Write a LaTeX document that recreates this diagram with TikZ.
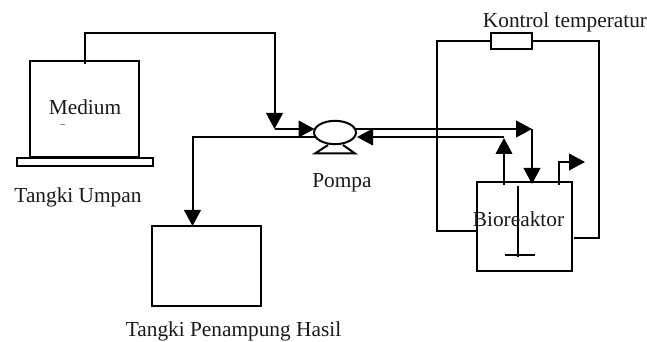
\documentclass[tikz,border=0pt]{standalone}
\usepackage{fontspec}
\setmainfont{Liberation Serif}
\usetikzlibrary{arrows.meta,shapes.geometric}
\tikzset{
  pipe/.style={draw=black,line width=1.5pt,line join=miter},
  flow/.style={pipe,-{Triangle[length=12pt,width=12.5pt]}},
  vessel/.style={draw=black,line width=1.5pt,rectangle,inner sep=0pt},
  lbl/.style={font=\fontsize{16pt}{18pt}\selectfont,inner sep=0pt,text=black!90,anchor=base}
}
\begin{document}
\begin{tikzpicture}[x=0.75pt,y=-0.75pt]
\useasboundingbox (0,0) rectangle (647,342);
% vessels
\node[vessel,minimum width=81.75pt,minimum height=72pt] (umpan) at (84.5,109) {};
\node[vessel,minimum width=102pt,minimum height=6pt] (base) at (85,162) {};
\node[vessel,minimum width=81.75pt,minimum height=60pt] (hasil) at (206.5,266) {};
\node[vessel,minimum width=71.25pt,minimum height=66.75pt] (reaktor) at (524.5,226.5) {};
\node[vessel,minimum width=30.75pt,minimum height=12pt] (kontrol) at (511.5,41) {};
% pump
\node[draw=black,line width=1.5pt,ellipse,minimum width=31.5pt,minimum height=17.5pt,inner sep=0pt] (pompa) at (335,132.5) {};
\coordinate (ba) at (315,153.5);
\coordinate (bb) at (328,145);
\coordinate (bc) at (343,145);
\coordinate (bd) at (355,153.5);
\draw[pipe] (bb) -- (ba) -- (bd) -- (bc);
% waypoints
\coordinate (f0) at (85,64);
\coordinate (f1) at (85,33);
\coordinate (f2) at (274.5,33);
\coordinate (f3) at (274.5,129);
\coordinate (p1) at (314.5,129);
\coordinate (h0) at (315,137);
\coordinate (h1) at (192.5,137);
\coordinate (h2) at (192.5,226);
\coordinate (r0) at (355,129);
\coordinate (r1) at (532,129);
\coordinate (r2) at (532,184);
\coordinate (s0) at (504,185);
\coordinate (s1) at (504,138);
\coordinate (s2) at (504,137);
\coordinate (s3) at (357,137);
\coordinate (o0) at (559,185);
\coordinate (o1) at (559,162);
\coordinate (o2) at (585,162);
\coordinate (l0) at (477,231);
\coordinate (l1) at (437,231);
\coordinate (l2) at (437,41);
\coordinate (l3) at (599,41);
\coordinate (l4) at (599,238);
\coordinate (l5) at (574,238);
\coordinate (i0) at (518,186);
\coordinate (i1) at (518,257);
\coordinate (i2) at (505,255);
\coordinate (i3) at (535,255);
% connectors
\draw[flow] (f0) -- (f1) -- (f2) -- (f3);
\draw[flow] (f3) -- (p1);
\draw[flow] (h0) -- (h1) -- (h2);
\draw[flow] (r0) -- (r1);
\draw[flow] (r1) -- (r2);
\draw[flow] (s0) -- (s1);
\draw[flow] (s2) -- (s3);
\draw[flow] (o0) -- (o1) -- (o2);
\draw[pipe] (l0) -- (l1) -- (l2) -- (kontrol.west);
\draw[pipe] (kontrol.east) -- (l3) -- (l4) -- (l5);
\draw[pipe] (i0) -- (i1);
\draw[pipe] (i2) -- (i3);
% labels
\node[lbl] (tmedium) at (85,115) {Medium};
\node[lbl] (tumpan) at (78,203) {Tangki Umpan};
\node[lbl] (tpompa) at (342,188) {Pompa};
\node[lbl] (thasil) at (233.5,336.5) {Tangki Penampung Hasil};
\node[lbl] (tkontrol) at (565,28) {Kontrol temperatur};
\node[lbl] (treaktor) at (518.5,227) {Bioreaktor};
% faint speck under Medium
\coordinate (sp0) at (60,124);
\coordinate (sp1) at (65,124);
\draw[black!45,line width=0.5pt] (sp0) -- (sp1);
\end{tikzpicture}
\end{document}
